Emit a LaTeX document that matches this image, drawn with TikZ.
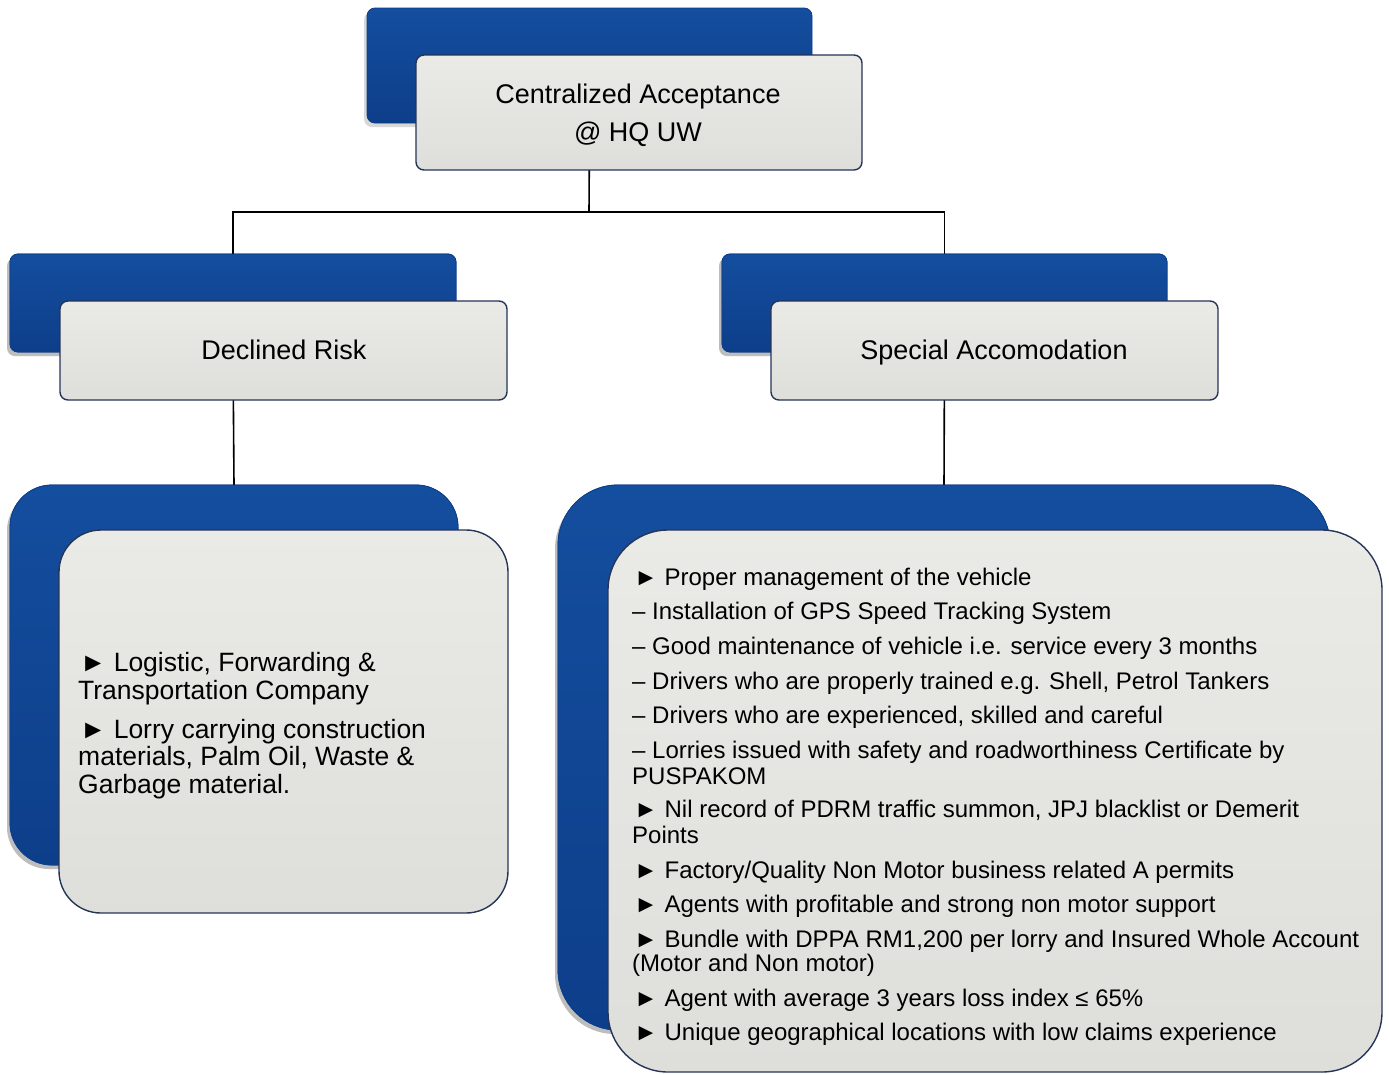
\documentclass[tikz,border=0pt]{standalone}
\usepackage{fontspec}
\setmainfont{Liberation Sans}
\usetikzlibrary{shadows}
\definecolor{bluetop}{RGB}{20,78,158}
\definecolor{bluebot}{RGB}{13,62,138}
\definecolor{frontA}{RGB}{234,235,230}
\definecolor{frontB}{RGB}{222,223,218}
\definecolor{frame}{RGB}{38,52,88}
\tikzset{
  backbox/.style={rectangle, anchor=north west, inner sep=0pt, outer sep=0pt,
    top color=bluetop, bottom color=bluebot, draw=bluebot, line width=0.8pt,
    drop shadow={shadow xshift=-3pt, shadow yshift=-4pt, opacity=0.3}},
  frontbox/.style={rectangle, anchor=north west, inner sep=0pt, outer sep=0pt,
    top color=frontA, bottom color=frontB, draw=frame, line width=1.4pt},
  link/.style={draw=black, line width=1.6pt},
  titletext/.style={inner sep=0pt, anchor=base, font=\fontsize{27}{38}\selectfont},
  ltext/.style={anchor=base west, inner sep=0pt, font=\fontsize{26.5}{30}\selectfont},
  rtext/.style={anchor=base west, inner sep=0pt, font=\fontsize{24}{28}\selectfont},
}
\begin{document}
\begin{tikzpicture}[x=1pt,y=-1pt]
\useasboundingbox[fill=white] (0,0) rectangle (1389,1074);
% back boxes
\node[backbox, rounded corners=8pt, minimum width=445pt, minimum height=115pt] (topB) at (367,8) {};
\node[backbox, rounded corners=8pt, minimum width=446pt, minimum height=98pt] (lmB) at (10,254) {};
\node[backbox, rounded corners=8pt, minimum width=445pt, minimum height=98pt] (rmB) at (722,254) {};
\node[backbox, rounded corners=42pt, minimum width=448pt, minimum height=380pt] (lbB) at (10,485) {};
\node[backbox, rounded corners=60pt, minimum width=772pt, minimum height=545pt] (rbB) at (558,485) {};
% connectors
\coordinate (hub) at (589,212);
\draw[link] (topB.south) -- (hub);
\draw[link] (hub) -| (lmB.north);
\draw[link] (hub) -| (rmB.north);
\draw[link] (lmB.south) -- (lbB.north);
\draw[link] (rmB.south) -- (rbB.north);
% redraw back boxes over connector ends
\node[backbox, rounded corners=8pt, minimum width=446pt, minimum height=98pt] at (10,254) {};
\node[backbox, rounded corners=8pt, minimum width=445pt, minimum height=98pt] at (722,254) {};
\node[backbox, rounded corners=42pt, minimum width=448pt, minimum height=380pt] at (10,485) {};
\node[backbox, rounded corners=60pt, minimum width=772pt, minimum height=545pt] at (558,485) {};
% front boxes
\node[frontbox, rounded corners=8pt, minimum width=446pt, minimum height=115pt] (topF) at (416,55) {};
\node[frontbox, rounded corners=8pt, minimum width=447pt, minimum height=99pt] (lmF) at (60,301) {};
\node[frontbox, rounded corners=8pt, minimum width=447pt, minimum height=99pt] (rmF) at (771,301) {};
\node[frontbox, rounded corners=42pt, minimum width=449pt, minimum height=383pt] (lbF) at (59,530) {};
\node[frontbox, rounded corners=60pt, minimum width=774pt, minimum height=542pt] (rbF) at (608,530) {};
% texts
\node[titletext] (topT1) at (638,103) {Centralized Acceptance};
\node[titletext] (topT2) at (638,141) {@ HQ UW};
\node[titletext] (lmT) at (284,359) {Declined Risk};
\node[titletext] (rmT) at (994,359) {Special Accomodation};
% left list
\node[ltext] (l1) at (80,671) {► Logistic, Forwarding \&};
\node[ltext] (l2) at (78,699) {Transportation Company};
\node[ltext] (l3) at (80,738) {► Lorry carrying construction};
\node[ltext] (l4) at (78,765) {materials, Palm Oil, Waste \&};
\node[ltext] (l5) at (78,793) {Garbage material.};
% right list
\node[rtext] (r1) at (634,585) {► Proper management of the vehicle};
\node[rtext] (r2) at (632,619) {– Installation of GPS Speed Tracking System};
\node[rtext] (r3) at (632,654) {– Good maintenance of vehicle i.e. service every 3 months};
\node[rtext] (r4) at (632,689) {– Drivers who are properly trained e.g. Shell, Petrol Tankers};
\node[rtext] (r5) at (632,723) {– Drivers who are experienced, skilled and careful};
\node[rtext] (r6) at (632,758) {– Lorries issued with safety and roadworthiness Certificate by};
\node[rtext] (r7) at (632,784) {PUSPAKOM};
\node[rtext] (r8) at (634,817) {► Nil record of PDRM traffic summon, JPJ blacklist or Demerit};
\node[rtext] (r9) at (632,843) {Points};
\node[rtext] (r10) at (634,878) {► Factory/Quality Non Motor business related A permits};
\node[rtext] (r11) at (634,912) {► Agents with profitable and strong non motor support};
\node[rtext] (r12) at (634,947) {► Bundle with DPPA RM1,200 per lorry and Insured Whole Account};
\node[rtext] (r13) at (632,971) {(Motor and Non motor)};
\node[rtext] (r14) at (634,1006) {► Agent with average 3 years loss index ≤ 65\%};
\node[rtext] (r15) at (634,1040) {► Unique geographical locations with low claims experience};
\end{tikzpicture}
\end{document}
